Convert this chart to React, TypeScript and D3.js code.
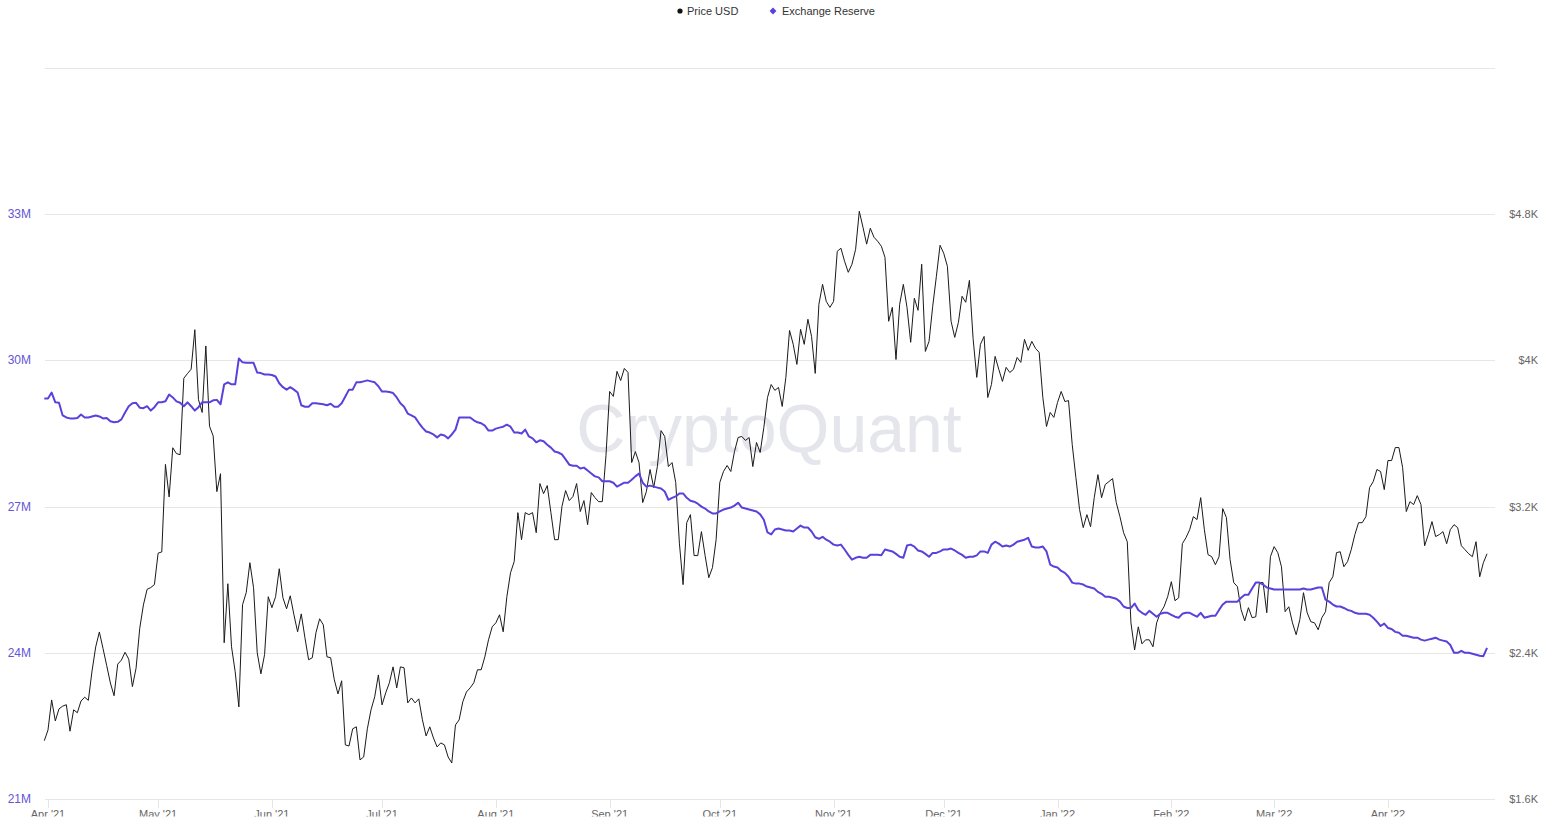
import React, { useEffect, useRef } from 'react';
import * as d3 from 'd3';

// daily series, starting 31 Mar 2021, one value per day
const startDate = new Date(2021, 2, 31);

const priceUsd: number[] = [
  1919,
  // Apr '21
  1977, 2142, 2027, 2093, 2108, 2116, 1971, 2088, 2072, 2136,
  2157, 2140, 2300, 2432, 2514, 2423, 2330, 2235, 2165, 2338,
  2360, 2403, 2365, 2215, 2316, 2534, 2662, 2747, 2757, 2773,
  // May '21
  2945, 2952, 3431, 3253, 3522, 3490, 3484, 3902, 3928, 3952,
  4168, 3785, 3715, 4079, 3640, 3587, 3282, 3380, 2455, 2778,
  2433, 2296, 2104, 2663, 2729, 2893, 2756, 2400, 2285, 2390,
  2707,
  // Jun '21
  2647, 2707, 2860, 2701, 2641, 2712, 2608, 2515, 2613, 2482,
  2362, 2373, 2510, 2586, 2553, 2378, 2373, 2252, 2175, 2247,
  1896, 1890, 1984, 1995, 1814, 1830, 1984, 2088, 2159, 2279,
  // Jul '21
  2115, 2181, 2236, 2323, 2208, 2323, 2318, 2126, 2153, 2126,
  2148, 2033, 1945, 1995, 1934, 1885, 1907, 1896, 1830, 1797,
  2005, 2033, 2132, 2186, 2208, 2236, 2307, 2307, 2378, 2471,
  2542,
  // Aug '21
  2564, 2608, 2515, 2707, 2838, 2899, 3167, 3019, 3167, 3156,
  3167, 3057, 3326, 3271, 3315, 3167, 3019, 3019, 3200, 3288,
  3233, 3255, 3326, 3173, 3233, 3101, 3277, 3249, 3227, 3227,
  3480,
  // Sep '21
  3830, 3803, 3940, 3890, 3956, 3934, 3441, 3501, 3441, 3222,
  3282, 3403, 3304, 3420, 3616, 3584, 3419, 3441, 3332, 3000,
  2773, 3112, 3156, 2932, 2932, 3063, 2932, 2811, 2866, 3019,
  // Oct '21
  3332, 3392, 3425, 3392, 3501, 3578, 3584, 3562, 3578, 3419,
  3551, 3496, 3633, 3797, 3868, 3836, 3852, 3748, 3907, 4164,
  4088, 3978, 4170, 4088, 4225, 4131, 3929, 4307, 4416, 4323,
  4290,
  // Nov '21
  4323, 4597, 4614, 4542, 4482, 4526, 4608, 4816, 4729, 4636,
  4723, 4674, 4652, 4625, 4564, 4214, 4290, 4005, 4307, 4416,
  4290, 4099, 4340, 4274, 4526, 4049, 4104, 4296, 4460, 4630,
  // Dec '21
  4586, 4515, 4214, 4126, 4208, 4351, 4318, 4438, 4120, 3907,
  4088, 4131, 3797, 3868, 4022, 3951, 3885, 3962, 3934, 3951,
  4016, 3989, 4115, 4055, 4104, 4066, 4044, 3797, 3638, 3715,
  3688,
  // Jan '22
  3770, 3830, 3775, 3780, 3540, 3359, 3184, 3085, 3156, 3090,
  3249, 3375, 3249, 3321, 3337, 3353, 3222, 3145, 3057, 3008,
  2564, 2416, 2542, 2449, 2471, 2471, 2433, 2564, 2619, 2652,
  2707,
  // Feb '22
  2789, 2685, 2701, 2997, 3030, 3074, 3145, 3129, 3249, 3074,
  2937, 2926, 2882, 2926, 3189, 3140, 2910, 2784, 2762, 2636,
  2575, 2647, 2592, 2597, 2784, 2784, 2619, 2926,
  // Mar '22
  2981, 2948, 2871, 2625, 2652, 2564, 2499, 2581, 2729, 2619,
  2570, 2564, 2526, 2592, 2625, 2784, 2816, 2948, 2953, 2871,
  2899, 2964, 3047, 3112, 3112, 3145, 3304, 3337, 3403, 3392,
  3293,
  // Apr '22
  3452, 3452, 3523, 3523, 3414, 3173, 3227, 3211, 3260, 3211,
  2986, 3047, 3118, 3036, 3047, 3063, 2997, 3074, 3101, 3085,
  2986, 2964, 2942, 2926, 3008, 2816, 2893, 2942,
];

// exchange reserve, millions
const exchangeReserve: number[] = [
  29.22, 29.22, 29.34, 29.14, 29.13, 28.87, 28.83, 28.81, 28.81, 28.82,
  28.89, 28.83, 28.83, 28.85, 28.87, 28.85, 28.81, 28.82, 28.75, 28.73,
  28.74, 28.79, 28.93, 29.06, 29.12, 29.13, 29.03, 29.02, 29.06, 28.97,
  29.04, 29.14, 29.14, 29.16, 29.30, 29.24, 29.16, 29.13, 29.06, 29.14,
  29.06, 28.97, 29.04, 29.14, 29.14, 29.14, 29.18, 29.19, 29.10, 29.51,
  29.55, 29.51, 29.51, 30.04, 29.96, 29.95, 29.95, 29.95, 29.75, 29.74,
  29.71, 29.71, 29.70, 29.67, 29.53, 29.45, 29.40, 29.45, 29.40, 29.34,
  29.08, 29.05, 29.05, 29.12, 29.12, 29.11, 29.10, 29.08, 29.11, 29.05,
  29.05, 29.12, 29.26, 29.40, 29.40, 29.55, 29.55, 29.57, 29.59, 29.57,
  29.55, 29.47, 29.36, 29.36, 29.35, 29.33, 29.24, 29.12, 29.05, 28.91,
  28.87, 28.83, 28.72, 28.62, 28.54, 28.52, 28.48, 28.42, 28.48, 28.46,
  28.40, 28.48, 28.58, 28.83, 28.83, 28.83, 28.83, 28.77, 28.73, 28.71,
  28.66, 28.56, 28.56, 28.60, 28.62, 28.64, 28.68, 28.64, 28.52, 28.52,
  28.50, 28.58, 28.44, 28.40, 28.32, 28.36, 28.34, 28.27, 28.21, 28.13,
  28.11, 28.07, 27.97, 27.86, 27.84, 27.84, 27.78, 27.80, 27.74, 27.68,
  27.62, 27.60, 27.52, 27.52, 27.52, 27.49, 27.41, 27.45, 27.49, 27.49,
  27.55, 27.62, 27.68, 27.49, 27.41, 27.43, 27.41, 27.39, 27.37, 27.31,
  27.14, 27.18, 27.21, 27.27, 27.27, 27.18, 27.12, 27.10, 27.06, 27.00,
  26.96, 26.90, 26.86, 26.86, 26.90, 26.94, 26.96, 26.98, 27.02, 27.08,
  26.98, 26.96, 26.94, 26.92, 26.90, 26.84, 26.73, 26.47, 26.43, 26.53,
  26.55, 26.53, 26.51, 26.51, 26.49, 26.55, 26.61, 26.57, 26.57, 26.49,
  26.37, 26.34, 26.38, 26.32, 26.28, 26.22, 26.20, 26.22, 26.12, 26.01,
  25.91, 25.95, 25.97, 25.95, 25.95, 26.01, 26.01, 26.01, 26.00, 26.12,
  26.10, 26.08, 26.03, 25.97, 25.95, 26.20, 26.22, 26.18, 26.10, 26.08,
  26.03, 25.97, 26.05, 26.05, 26.08, 26.12, 26.12, 26.14, 26.10, 26.05,
  26.01, 25.95, 25.97, 25.97, 26.00, 26.08, 26.08, 26.05, 26.22, 26.28,
  26.24, 26.18, 26.20, 26.18, 26.22, 26.28, 26.30, 26.32, 26.36, 26.18,
  26.16, 26.16, 26.18, 26.08, 25.81, 25.77, 25.75, 25.68, 25.64, 25.56,
  25.44, 25.42, 25.42, 25.40, 25.36, 25.34, 25.32, 25.25, 25.21, 25.15,
  25.15, 25.13, 25.11, 25.05, 24.95, 24.92, 24.92, 25.01, 24.88, 24.82,
  24.78, 24.86, 24.80, 24.74, 24.80, 24.82, 24.82, 24.78, 24.74, 24.72,
  24.80, 24.82, 24.82, 24.78, 24.74, 24.82, 24.72, 24.74, 24.76, 24.76,
  24.88, 24.99, 25.05, 25.05, 25.05, 25.05, 25.13, 25.19, 25.19, 25.32,
  25.44, 25.44, 25.40, 25.34, 25.32, 25.30, 25.30, 25.30, 25.30, 25.30,
  25.30, 25.30, 25.30, 25.32, 25.30, 25.30, 25.32, 25.34, 25.34, 25.09,
  25.05, 24.99, 24.95, 24.95, 24.92, 24.88, 24.86, 24.82, 24.80, 24.80,
  24.80, 24.78, 24.72, 24.64, 24.55, 24.60, 24.51, 24.49, 24.43, 24.41,
  24.35, 24.35, 24.33, 24.31, 24.31, 24.27, 24.25, 24.27, 24.29, 24.31,
  24.27, 24.25, 24.23, 24.16, 24.00, 24.00, 24.04, 24.00, 24.00, 23.98,
  23.96, 23.94, 23.93, 24.10,
];

const reserveTicks = [21, 24, 27, 30, 33];
const priceTicks = [1600, 2400, 3200, 4000, 4800];
const gridTicks = [21, 24, 27, 30, 33, 36];

const W = 1543;
const H = 824;
const reserveColor = '#5842dc';

const App: React.FC = () => {
  const svgRef = useRef<SVGSVGElement>(null);

  useEffect(() => {
    if (!svgRef.current) return;
    const svg = d3.select(svgRef.current);
    svg.selectAll('*').remove();

    const dates = priceUsd.map((_, i) => d3.timeDay.offset(startDate, i));

    const x = d3.scaleTime()
      .domain([startDate, new Date(2022, 3, 30, 4)])
      .range([44.3, 1495]);
    const yRes = d3.scaleLinear().domain([21, 36]).range([799, 68]);
    const yPrice = d3.scaleLinear().domain([1600, 5600]).range([799, 68]);

    const font = '"Liberation Sans", Arial, Helvetica, sans-serif';

    // the bottom labels are cut off in the source, keep that
    svg.append('defs')
      .append('clipPath')
      .attr('id', 'xlabel-clip')
      .append('rect')
      .attr('x', 0)
      .attr('y', 790)
      .attr('width', W)
      .attr('height', 26.5);

    // gridlines
    svg.append('g')
      .selectAll('line')
      .data(gridTicks)
      .enter()
      .append('line')
      .attr('x1', 45)
      .attr('x2', 1495)
      .attr('y1', d => Math.round(yRes(d)) + 0.5)
      .attr('y2', d => Math.round(yRes(d)) + 0.5)
      .attr('stroke', '#e6e6e6')
      .attr('stroke-width', 1);

    // watermark
    svg.append('text')
      .attr('x', 769)
      .attr('y', 452)
      .attr('text-anchor', 'middle')
      .style('font-family', font)
      .style('font-size', '68px')
      .style('font-weight', 500)
      .attr('fill', '#e5e5ec')
      .text('CryptoQuant');

    // x axis ticks and labels
    const months = x.ticks(d3.timeMonth.every(1) as d3.TimeInterval);
    const fmt = d3.timeFormat("%b '%y");
    const xAxis = svg.append('g');
    xAxis.selectAll('line')
      .data(months)
      .enter()
      .append('line')
      .attr('x1', d => Math.round(x(d)) + 0.5)
      .attr('x2', d => Math.round(x(d)) + 0.5)
      .attr('y1', 799)
      .attr('y2', 808)
      .attr('stroke', '#e6e6e6');
    xAxis.append('g')
      .attr('clip-path', 'url(#xlabel-clip)')
      .selectAll('text')
      .data(months)
      .enter()
      .append('text')
      .attr('x', d => x(d))
      .attr('y', 818)
      .attr('text-anchor', 'middle')
      .style('font-family', font)
      .style('font-size', '11px')
      .attr('fill', '#666666')
      .text(d => fmt(d));

    // left axis (reserve)
    svg.append('g')
      .selectAll('text')
      .data(reserveTicks)
      .enter()
      .append('text')
      .attr('x', 31)
      .attr('y', d => yRes(d) + 4)
      .attr('text-anchor', 'end')
      .style('font-family', font)
      .style('font-size', '12px')
      .attr('fill', '#6455d8')
      .text(d => `${d}M`);

    // right axis (price)
    svg.append('g')
      .selectAll('text')
      .data(priceTicks)
      .enter()
      .append('text')
      .attr('x', 1538)
      .attr('y', d => yPrice(d) + 4)
      .attr('text-anchor', 'end')
      .style('font-family', font)
      .style('font-size', '11px')
      .attr('fill', '#666666')
      .text(d => `$${d / 1000}K`);

    // price line
    const priceLine = d3.line<number>()
      .x((_, i) => x(dates[i]))
      .y(d => yPrice(d));
    svg.append('path')
      .datum(priceUsd)
      .attr('d', priceLine)
      .attr('fill', 'none')
      .attr('stroke', '#1a1a1a')
      .attr('stroke-width', 1)
      .attr('stroke-linejoin', 'round');

    // reserve line
    const reserveLine = d3.line<number>()
      .x((_, i) => x(dates[i]))
      .y(d => yRes(d));
    svg.append('path')
      .datum(exchangeReserve)
      .attr('d', reserveLine)
      .attr('fill', 'none')
      .attr('stroke', reserveColor)
      .attr('stroke-width', 2)
      .attr('stroke-linejoin', 'round');

    // legend
    const legend = svg.append('g');
    legend.append('circle')
      .attr('cx', 680)
      .attr('cy', 11)
      .attr('r', 2.6)
      .attr('fill', '#111');
    legend.append('text')
      .attr('x', 687)
      .attr('y', 15)
      .style('font-family', font)
      .style('font-size', '11px')
      .attr('fill', '#333333')
      .text('Price USD');
    legend.append('path')
      .attr('d', d3.symbol().type(d3.symbolDiamond2).size(30)() as string)
      .attr('transform', 'translate(773,11)')
      .attr('fill', reserveColor);
    legend.append('text')
      .attr('x', 782)
      .attr('y', 15)
      .style('font-family', font)
      .style('font-size', '11px')
      .attr('fill', '#333333')
      .text('Exchange Reserve');
  }, []);

  return (
    <svg
      ref={svgRef}
      width={W}
      height={H}
      style={{ position: 'absolute', left: 0, top: 0, background: '#fff' }}
    ></svg>
  );
};

export default App;
